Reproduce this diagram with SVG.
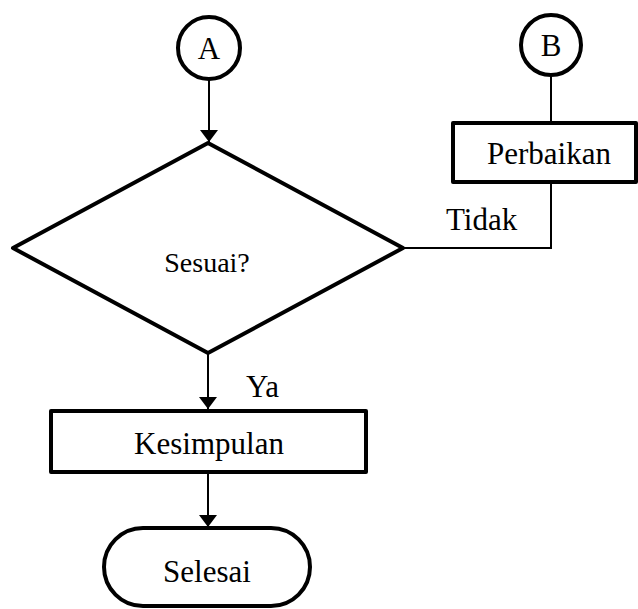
<svg xmlns="http://www.w3.org/2000/svg" width="638" height="609" viewBox="0 0 638 609">
<style>
.shape{fill:#fff;stroke:#000;stroke-width:4;stroke-linejoin:round}
.conn{fill:none;stroke:#000;stroke-width:2}
.t{font-family:'Liberation Serif','DejaVu Serif',serif;fill:#000;font-size:31px}
.mid{text-anchor:middle}
</style>
<defs>
<marker id="arr" viewBox="0 0 12 18" markerWidth="12" markerHeight="18" refX="12" refY="9" orient="auto" markerUnits="userSpaceOnUse">
<path d="M0,0 L12,9 L0,18 Z" fill="#000"/>
</marker>
</defs>
<g id="connectors">
<line class="conn" x1="209" y1="80" x2="209" y2="142" marker-end="url(#arr)"/>
<line class="conn" x1="551" y1="75" x2="551" y2="122"/>
<polyline class="conn" points="551,183 551,248 403,248"/>
<line class="conn" x1="208" y1="353" x2="208" y2="409" marker-end="url(#arr)"/>
<line class="conn" x1="208" y1="472" x2="208" y2="527" marker-end="url(#arr)"/>
<text class="t" x="446" y="230">Tidak</text>
<text class="t" x="246" y="397">Ya</text>
</g>
<g id="nodeA">
<circle class="shape" cx="209" cy="48" r="31" stroke-width="3.5"/>
<text class="t mid" x="209" y="59">A</text>
</g>
<g id="nodeB">
<circle class="shape" cx="551" cy="45" r="30" stroke-width="3.5"/>
<text class="t mid" x="551" y="56">B</text>
</g>
<g id="perbaikan">
<rect class="shape" x="453" y="123" width="183" height="59"/>
<text class="t mid" x="549" y="164">Perbaikan</text>
</g>
<g id="sesuai">
<polygon class="shape" points="208,143 403,248 208,353 13,248"/>
<text class="t mid" x="207" y="272" style="font-size:28px">Sesuai?</text>
</g>
<g id="kesimpulan">
<rect class="shape" x="51" y="411" width="315" height="61"/>
<text class="t mid" x="209" y="454">Kesimpulan</text>
</g>
<g id="selesai">
<rect class="shape" x="104" y="528" width="206" height="78" rx="39" ry="39"/>
<text class="t mid" x="207" y="582">Selesai</text>
</g>
</svg>
